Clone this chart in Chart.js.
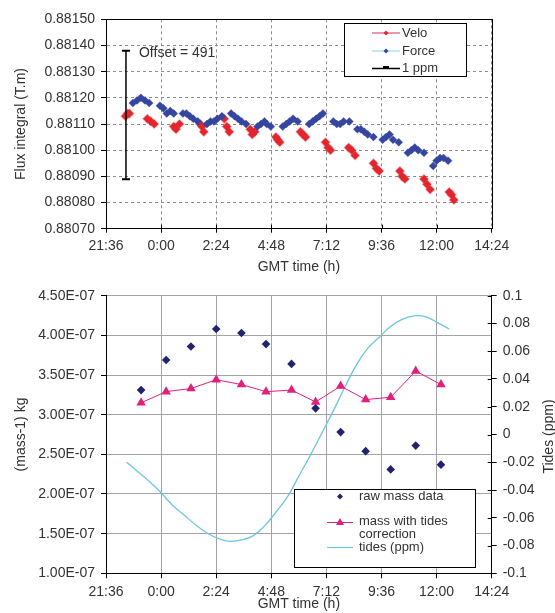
<!DOCTYPE html>
<html>
<head>
<meta charset="utf-8">
<script src="https://cdn.jsdelivr.net/npm/chart.js@4.4.1/dist/chart.umd.min.js"></script>
<style>
html, body { margin: 0; padding: 0; background: #fff; }
#wrap { position: relative; width: 555px; height: 613px; overflow: hidden; }
canvas { position: absolute; left: 0; }
#fluxChart { top: 0; }
#massChart { top: 276px; }
</style>
</head>
<body>
<div id="wrap">
	<canvas id="fluxChart" width="555" height="276" style="width:555px;height:276px"></canvas>
	<canvas id="massChart" width="555" height="337" style="width:555px;height:337px"></canvas>
</div>
<script>
// Top chart - flux integral (times in hours from midnight GMT)
const veloTime = [
	-1.55, -1.45, -1.38, -0.6, -0.45, -0.3, 0.55, 0.65, 0.8, 1.7, 1.78, 1.86,
	2.75, 2.86, 2.97, 3.88, 3.97, 4.08, 5.0, 5.08, 5.17, 6.07, 6.18, 6.29,
	7.16, 7.27, 7.38, 8.17, 8.3, 8.45, 9.25, 9.38, 9.5, 10.4, 10.5, 10.62,
	11.45, 11.58, 11.72, 12.55, 12.65, 12.75,
];
const veloFlux = [
	0.88113, 0.88114, 0.88114, 0.88112, 0.88111, 0.8811, 0.88109, 0.88108, 0.8811,
	0.8811, 0.88109, 0.88107, 0.88112, 0.88109, 0.88107, 0.88108, 0.88106, 0.88107,
	0.88105, 0.88104, 0.88103, 0.88107, 0.88106, 0.88105, 0.88103, 0.88101, 0.881,
	0.88101, 0.881, 0.88098, 0.88095, 0.88093, 0.88092, 0.88092, 0.8809, 0.88089,
	0.88089, 0.88087, 0.88085, 0.88084, 0.88083, 0.88081,
];
const forceTime = [
	-1.23, -1.05, -0.88, -0.7, -0.52, -0.05, 0.1, 0.25, 0.4, 0.55,
	0.95, 1.1, 1.25, 1.4, 1.6, 2.0, 2.15, 2.3, 2.45, 2.65,
	3.05, 3.2, 3.35, 3.5, 3.7, 4.2, 4.35, 4.5, 4.6, 4.78,
	5.3, 5.45, 5.6, 5.75, 5.95, 6.45, 6.6, 6.75, 6.9, 7.05,
	7.5, 7.65, 7.8, 7.95, 8.2, 8.55, 8.7, 8.85, 9.0, 9.25,
	9.65, 9.8, 9.95, 10.1, 10.35, 10.75, 10.9, 11.05, 11.2, 11.45,
	11.85, 12.0, 12.15, 12.3, 12.5,
];
const forceFlux = [
	0.88118, 0.88119, 0.8812, 0.88119, 0.88118, 0.88117, 0.88116, 0.88114, 0.88115, 0.88114,
	0.88114, 0.88114, 0.88113, 0.88112, 0.88111, 0.8811, 0.88111, 0.88111, 0.88112, 0.88113,
	0.88114, 0.88113, 0.88112, 0.88111, 0.8811, 0.88109, 0.8811, 0.88111, 0.8811, 0.88109,
	0.88109, 0.8811, 0.88111, 0.88112, 0.88111, 0.8811, 0.88111, 0.88112, 0.88113, 0.88114,
	0.88111, 0.8811, 0.8811, 0.88111, 0.88111, 0.88108, 0.88108, 0.88107, 0.88106, 0.88105,
	0.88104, 0.88105, 0.88106, 0.88104, 0.88103, 0.88099, 0.881, 0.88101, 0.881, 0.88099,
	0.88094, 0.88096, 0.88097, 0.88097, 0.88096,
];
const ppmBarTime = [-1.53, -1.53];
const ppmBarFlux = [0.88138, 0.880889];
const offsetNote = "Offset = 491";

// Bottom chart - mass and tides
const massTime = [-0.87, 0.22, 1.3, 2.4, 3.5, 4.57, 5.68, 6.73, 7.82, 8.91, 10.0, 11.09, 12.19];
const rawMass = [
	3.31e-7, 3.69e-7, 3.86e-7, 4.08e-7, 4.03e-7, 3.89e-7, 3.64e-7,
	3.08e-7, 2.78e-7, 2.54e-7, 2.31e-7, 2.61e-7, 2.37e-7,
];
const tideCorrMass = [
	3.15e-7, 3.29e-7, 3.33e-7, 3.44e-7, 3.38e-7, 3.29e-7, 3.31e-7,
	3.16e-7, 3.36e-7, 3.19e-7, 3.22e-7, 3.55e-7, 3.38e-7,
];
const tideTime = [
	-1.5, -1.0, -0.5, 0.0, 0.5, 1.0, 1.5, 2.0, 2.5, 3.0, 3.5, 4.0, 4.5, 5.0, 5.5,
	6.0, 6.5, 7.0, 7.5, 8.0, 8.5, 9.0, 9.5, 10.0, 10.5, 11.0, 11.5, 12.0, 12.55,
];
const tidePpm = [
	-0.02, -0.027, -0.034, -0.042, -0.051, -0.058, -0.065, -0.071, -0.075, -0.077,
	-0.076, -0.073, -0.066, -0.056, -0.045, -0.03, -0.015, 0.001, 0.017, 0.034,
	0.05, 0.062, 0.07, 0.078, 0.083, 0.0855, 0.085, 0.081, 0.076,
];

// Tick labels
const timeTickLabels = ["21:36", "0:00", "2:24", "4:48", "7:12", "9:36", "12:00", "14:24"];

const colors = {
	velo: "#E3262E",
	veloLine: "#D8305A",
	force: "#34469F",
	forceLine: "#8CCFE0",
	raw: "#22226E",
	corr: "#E2207A",
	tide: "#6EC6DC",
	text: "#333333",
};

const FONT = "'Liberation Sans', Arial, sans-serif";
Chart.defaults.font.family = FONT;
Chart.defaults.font.size = 14;
Chart.defaults.color = colors.text;
Chart.defaults.animation = false;

const toPoints = (times, vals) => times.map((t, i) => ({ x: t * 60, y: vals[i] }));
const timeLabel = (v, i) => timeTickLabels[i];

function sciLabel(v) {
	const e = Math.floor(Math.log10(v) + 1e-9);
	const m = v / Math.pow(10, e);
	return m.toFixed(2) + "E" + (e < 0 ? "-" : "+") + String(Math.abs(e)).padStart(2, "0");
}

// Plot frame around chart area
const frame = {
	id: "frame",
	afterDraw(chart) {
		const { ctx, chartArea: a } = chart;
		ctx.save();
		ctx.strokeStyle = "#000";
		ctx.lineWidth = 1;
		ctx.strokeRect(Math.round(a.left) + 0.5, Math.round(a.top) + 0.5, Math.round(a.right - a.left), Math.round(a.bottom - a.top));
		ctx.restore();
	},
};

// Small inner tick marks on x axis (top chart) or right axis (bottom)
function innerTicks(axis) {
	return {
		id: "innerTicks_" + axis,
		afterDraw(chart) {
			const { ctx, chartArea: a } = chart;
			const scale = chart.scales[axis];
			if (!scale) return;
			ctx.save();
			ctx.strokeStyle = "#000";
			ctx.lineWidth = 1;
			ctx.beginPath();
			scale.ticks.forEach((t) => {
				const p = Math.round(scale.getPixelForValue(t.value)) + 0.5;
				if (axis === "x") {
					ctx.moveTo(p, a.bottom);
					ctx.lineTo(p, a.bottom - 4);
				} else {
					ctx.moveTo(a.right, p);
					ctx.lineTo(a.right - 4, p);
				}
			});
			ctx.stroke();
			ctx.restore();
		},
	};
}

function diamond(ctx, x, y, r, color) {
	ctx.fillStyle = color;
	ctx.beginPath();
	ctx.moveTo(x - r, y);
	ctx.lineTo(x, y - r);
	ctx.lineTo(x + r, y);
	ctx.lineTo(x, y + r);
	ctx.closePath();
	ctx.fill();
}

const topLegend = {
	id: "topLegend",
	afterDraw(chart) {
		const ctx = chart.ctx;
		const x = 344, y = 23, w = 122, h = 53;
		ctx.save();
		ctx.fillStyle = "#fff";
		ctx.fillRect(x, y, w, h);
		ctx.strokeStyle = "#000";
		ctx.lineWidth = 1;
		ctx.strokeRect(x + 0.5, y + 0.5, w, h);

		const rows = [
			{ label: "Velo", line: colors.veloLine, dot: colors.velo, cy: 33 },
			{ label: "Force", line: colors.forceLine, dot: colors.force, cy: 51 },
			{ label: "1 ppm", line: "#000", dot: null, cy: 68.5 },
		];
		ctx.font = "13px " + FONT;
		ctx.textBaseline = "middle";
		ctx.textAlign = "left";
		rows.forEach((r) => {
			ctx.strokeStyle = r.line;
			ctx.lineWidth = r.dot ? 1 : 1.5;
			ctx.beginPath();
			ctx.moveTo(372, r.cy);
			ctx.lineTo(400, r.cy);
			ctx.stroke();
			if (r.dot) {
				diamond(ctx, 386, r.cy, 2.5, r.dot);
			} else {
				ctx.lineWidth = 3;
				ctx.beginPath();
				ctx.moveTo(383, r.cy - 1);
				ctx.lineTo(389, r.cy - 1);
				ctx.stroke();
			}
			ctx.fillStyle = colors.text;
			ctx.fillText(r.label, 402, r.cy);
		});
		ctx.restore();
	},
};

const offsetText = {
	id: "offsetText",
	afterDraw(chart) {
		const ctx = chart.ctx;
		const px = chart.scales.x.getPixelForValue(ppmBarTime[0] * 60) + 13;
		const py = chart.scales.y.getPixelForValue(0.88137);
		ctx.save();
		ctx.font = "14px " + FONT;
		ctx.fillStyle = colors.text;
		ctx.textAlign = "left";
		ctx.textBaseline = "middle";
		ctx.fillText(offsetNote, px, py);
		ctx.restore();
	},
};

new Chart(document.getElementById("fluxChart"), {
	type: "scatter",
	data: {
		datasets: [
			{
				label: "1 ppm",
				type: "line",
				data: toPoints(ppmBarTime, ppmBarFlux),
				showLine: true,
				borderColor: "#000",
				borderWidth: 1.5,
				pointStyle: "line",
				pointRadius: 4,
				pointBorderWidth: 2,
				pointBorderColor: "#000",
			},
			{
				label: "Force",
				data: toPoints(forceTime, forceFlux),
				pointStyle: "rectRot",
				pointRadius: 4,
				backgroundColor: colors.force,
				borderColor: "rgba(52,70,159,0.35)",
				borderWidth: 1,
			},
			{
				label: "Velo",
				data: toPoints(veloTime, veloFlux),
				pointStyle: "rectRot",
				pointRadius: 4.3,
				backgroundColor: colors.velo,
				borderColor: "rgba(227,38,46,0.3)",
				borderWidth: 1.5,
			},
		],
	},
	options: {
		responsive: false,
		animation: false,
		layout: { padding: { left: 0, right: 63.3, top: 19.3, bottom: 0 } },
		plugins: { legend: { display: false }, tooltip: { enabled: false } },
		scales: {
			x: {
				type: "linear",
				min: -144,
				max: 864,
				afterBuildTicks(s) {
					s.ticks = timeTickLabels.map((_, i) => ({ value: -144 + i * 144 }));
				},
				ticks: { callback: timeLabel, padding: 5, maxRotation: 0, autoSkip: false },
				grid: { color: "#8c8c8c", tickColor: "#000", tickLength: 4 },
				border: { color: "#000", dash: [3, 3] },
				title: { display: true, text: "GMT time (h)", padding: { top: 0, bottom: 0 } },
				afterFit(s) { s.height = 47.3; },
			},
			y: {
				min: 0.8807,
				max: 0.8815,
				ticks: { stepSize: 0.0001, callback: (v) => v.toFixed(5), padding: 6 },
				grid: { color: "#8c8c8c", tickColor: "#000", tickLength: 5 },
				border: { color: "#000", dash: [3, 3] },
				title: { display: true, text: "Flux integral (T.m)", padding: { top: 13, bottom: 0 } },
				afterFit(s) { s.width = 106; },
			},
		},
	},
	plugins: [frame, innerTicks("x"), offsetText, topLegend],
});

const bottomLegend = {
	id: "bottomLegend",
	afterDraw(chart) {
		const ctx = chart.ctx;
		const x = 294, y = 213, w = 181, h = 78;
		ctx.save();
		ctx.fillStyle = "#fff";
		ctx.fillRect(x, y, w, h);
		ctx.strokeStyle = "#000";
		ctx.lineWidth = 1;
		ctx.strokeRect(x + 0.5, y + 0.5, w, h);
		ctx.font = "13px " + FONT;
		ctx.textBaseline = "middle";
		ctx.textAlign = "left";

		// raw mass data
		diamond(ctx, 340, 220.5, 3, colors.raw);
		ctx.fillStyle = colors.text;
		ctx.fillText("raw mass data", 359, 220.5);

		// mass with tides correction
		ctx.strokeStyle = colors.corr;
		ctx.lineWidth = 1;
		ctx.beginPath();
		ctx.moveTo(327, 246.5);
		ctx.lineTo(353, 246.5);
		ctx.stroke();
		ctx.fillStyle = colors.corr;
		ctx.beginPath();
		ctx.moveTo(340, 242);
		ctx.lineTo(344, 249);
		ctx.lineTo(336, 249);
		ctx.closePath();
		ctx.fill();
		ctx.fillStyle = colors.text;
		ctx.fillText("mass with tides", 359, 245.5);
		ctx.fillText("correction", 359, 258.3);

		// tides
		ctx.strokeStyle = colors.tide;
		ctx.lineWidth = 1.2;
		ctx.beginPath();
		ctx.moveTo(327, 271.5);
		ctx.lineTo(353, 271.5);
		ctx.stroke();
		ctx.fillStyle = colors.text;
		ctx.fillText("tides (ppm)", 359, 271.5);
		ctx.restore();
	},
};

const rightTitle = {
	id: "rightTitle",
	afterDraw(chart) {
		const ctx = chart.ctx;
		const a = chart.chartArea;
		ctx.save();
		ctx.font = "14px " + FONT;
		ctx.fillStyle = colors.text;
		ctx.textAlign = "center";
		ctx.textBaseline = "middle";
		ctx.translate(549, (a.top + a.bottom) / 2 + 2);
		ctx.rotate(-Math.PI / 2);
		ctx.fillText("Tides (ppm)", 0, 0);
		ctx.restore();
	},
};

new Chart(document.getElementById("massChart"), {
	type: "scatter",
	data: {
		datasets: [
			{
				label: "raw mass data",
				data: toPoints(massTime, rawMass),
				yAxisID: "y",
				pointStyle: "rectRot",
				pointRadius: 4.3,
				backgroundColor: colors.raw,
				borderColor: colors.raw,
				borderWidth: 0,
			},
			{
				label: "mass with tides correction",
				type: "line",
				data: toPoints(massTime, tideCorrMass),
				yAxisID: "y",
				showLine: true,
				borderColor: colors.corr,
				borderWidth: 1,
				pointStyle: "triangle",
				pointRadius: 5.5,
				backgroundColor: colors.corr,
				pointBorderWidth: 0,
			},
			{
				label: "tides (ppm)",
				type: "line",
				data: toPoints(tideTime, tidePpm),
				yAxisID: "y1",
				showLine: true,
				borderColor: colors.tide,
				borderWidth: 1.3,
				pointRadius: 0,
				tension: 0.4,
			},
		],
	},
	options: {
		responsive: false,
		animation: false,
		layout: { padding: { left: 0, right: 0, top: 19.7, bottom: 0 } },
		plugins: { legend: { display: false }, tooltip: { enabled: false } },
		scales: {
			x: {
				type: "linear",
				min: -144,
				max: 864,
				afterBuildTicks(s) {
					s.ticks = timeTickLabels.map((_, i) => ({ value: -144 + i * 144 }));
				},
				ticks: { callback: timeLabel, padding: 5, maxRotation: 0, autoSkip: false },
				grid: { color: "#a3a3a3", tickColor: "#000", tickLength: 5 },
				border: { color: "#000" },
				title: { display: true, text: "GMT time (h)", padding: { top: 0, bottom: 0 } },
				afterFit(s) { s.height = 39.7; },
			},
			y: {
				position: "left",
				min: 1e-7,
				max: 4.5e-7,
				ticks: { stepSize: 5e-8, callback: sciLabel, padding: 6 },
				grid: { color: "#a3a3a3", tickColor: "#000", tickLength: 5 },
				border: { color: "#000" },
				title: { display: true, text: "(mass-1) kg", padding: { top: 13, bottom: 0 } },
				afterFit(s) { s.width = 106; },
			},
			y1: {
				position: "right",
				min: -0.1,
				max: 0.1,
				ticks: { stepSize: 0.02, callback: (v) => String(+v.toFixed(2)), padding: 6 },
				grid: { drawOnChartArea: false, tickColor: "#000", tickLength: 5 },
				border: { color: "#000" },
				afterFit(s) { s.width = 63.3; },
			},
		},
	},
	plugins: [innerTicks("y1"), rightTitle, bottomLegend],
});
</script>
</body>
</html>
